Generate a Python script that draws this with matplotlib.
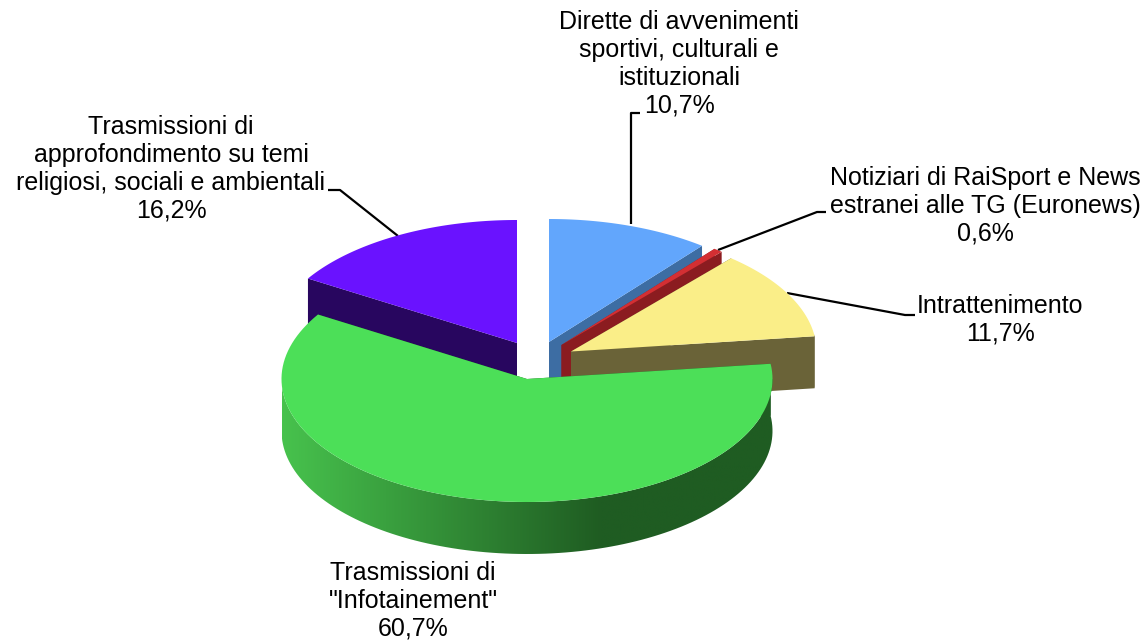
import numpy as np
import matplotlib
matplotlib.use("Agg")
import matplotlib.pyplot as plt
from matplotlib.patches import Polygon
from matplotlib.colors import LinearSegmentedColormap

plt.rcParams['font.family'] = ['Liberation Sans', 'DejaVu Sans']

# data, clockwise from 12 o'clock
names = ["Dirette di avvenimenti\nsportivi, culturali e\nistituzionali",
         "Notiziari di RaiSport e News\nestranei alle TG (Euronews)",
         "Intrattenimento",
         "Trasmissioni di\n\"Infotainement\"",
         "Trasmissioni di\napprofondimento su temi\nreligiosi, sociali e ambientali"]
shares = [10.7, 0.6, 11.7, 60.7, 16.2]

top_colors = ["#62a6fc", "#d32f33", "#faee88", "#4cdf58", "#6a12ff"]
side_colors = ["#3d6da3", "#8b1c20", "#6a6338", "#1f5c22", "#28065f"]

# slice apex in pixels (exploded pie), pie shape
apex = [(549, 342), (561.5, 345), (571, 351.5), (527, 379), (517, 343)]
RX, RY, DEPTH = 245.5, 123, 52

# label centre and leader line, in pixels
label_pos = [(679, 64), (985, 206), (1000, 320), (413, 600.5), (171, 169)]
leaders = [[(631, 224), (631, 113), (640, 113)],
           [(718, 250), (817, 212), (826, 212)],
           [(787, 293), (905, 315), (915, 315)],
           None,
           [(398, 236), (340, 190), (328, 190)]]

fig = plt.figure(figsize=(11.46, 6.44), dpi=100)
ax = fig.add_axes([0, 0, 1, 1])


def rim(cx, cy, a0, a1, n=120):
    t = np.radians(np.linspace(a0, a1, n))
    return np.column_stack([cx + RX * np.sin(t), cy - RY * np.cos(t)])


edges = np.concatenate([[0], np.cumsum(shares)]) / sum(shares) * 360

for i in [4, 0, 1, 2, 3]:
    cx, cy = apex[i]
    a0, a1 = edges[i], edges[i + 1]
    down = np.array([0, DEPTH])
    p0 = np.array(apex[i], dtype=float)
    arc = rim(cx, cy, a0, a1)

    # the two cut faces
    for end in (arc[0], arc[-1]):
        face = [p0, end, end + down, p0 + down]
        ax.add_patch(Polygon(face, closed=True, fc=side_colors[i], ec='none'))

    # outer wall, only the part facing the viewer
    lo, hi = max(a0, 90 - 8), min(a1, 270)
    if lo < hi:
        wall = rim(cx, cy, lo, hi)
        wall = np.vstack([wall, wall[::-1] + down])
        if i == 3:
            # shaded wall of the big slice
            cmap = LinearSegmentedColormap.from_list(
                "wall", [(0, "#47c24d"), (0.65, "#1f5c22"), (1, "#1f5c22")])
            grad = np.linspace(0, 1, 256).reshape(1, -1)
            im = ax.imshow(grad, cmap=cmap, aspect='auto', zorder=1,
                           extent=[cx - RX, cx + RX, cy + RY + DEPTH, cy])
            clip = Polygon(wall, closed=True, transform=ax.transData)
            im.set_clip_path(clip)
        else:
            ax.add_patch(Polygon(wall, closed=True, fc=side_colors[i], ec='none'))

    # top surface
    ax.add_patch(Polygon(np.vstack([p0, arc]), closed=True, fc=top_colors[i],
                         ec='none', zorder=1))

for i, name in enumerate(names):
    pct = f"{shares[i]:.1f}%".replace(".", ",")
    ax.text(*label_pos[i], f"{name}\n{pct}", ha='center', va='center',
            fontsize=18, linespacing=1.21, color='black')
    if leaders[i]:
        xs, ys = zip(*leaders[i])
        ax.plot(xs, ys, color='black', lw=1.6, solid_capstyle='butt', zorder=0.5)

ax.set_xlim(0, 1146)
ax.set_ylim(644, 0)
ax.axis('off')
fig.savefig("out.png", dpi=100)
